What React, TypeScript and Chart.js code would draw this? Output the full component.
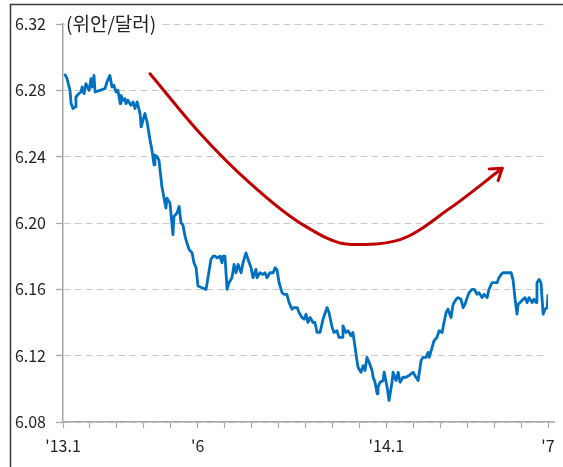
import React, { useEffect, useRef } from "react";
import { Chart, registerables } from "chart.js";

Chart.register(...registerables);

// y axis (위안/달러)
const unitLabel = "(위안/달러)";
const yMin = 6.08;
const yMax = 6.32;
const yStep = 0.04;

// x axis: months since 2013.1
const xTickMonths = [0, 5, 12, 18];
const xTickLabels = ["'13.1", "'6", "'14.1", "'7"];

// CNY per USD, [month since Jan 2013, rate]
const cnyRate: [number, number][] = [
  [0.06, 6.29], [0.15, 6.287], [0.26, 6.28], [0.3, 6.272], [0.37, 6.269], [0.45, 6.27], [0.48, 6.276],
  [0.59, 6.278], [0.67, 6.279], [0.71, 6.282], [0.78, 6.278], [0.85, 6.284], [0.97, 6.28], [1.04, 6.287],
  [1.08, 6.282], [1.15, 6.289], [1.19, 6.279], [1.37, 6.28], [1.56, 6.281], [1.63, 6.285], [1.74, 6.289],
  [1.82, 6.282], [1.89, 6.283], [1.97, 6.279], [2.04, 6.28], [2.12, 6.272], [2.15, 6.277], [2.23, 6.274],
  [2.3, 6.275], [2.34, 6.272], [2.41, 6.274], [2.52, 6.271], [2.6, 6.273], [2.67, 6.269], [2.75, 6.273],
  [2.86, 6.266], [2.9, 6.258], [2.97, 6.262], [3.04, 6.266], [3.12, 6.261], [3.23, 6.25], [3.3, 6.244],
  [3.38, 6.235], [3.41, 6.241], [3.49, 6.24], [3.56, 6.238], [3.67, 6.222], [3.75, 6.215], [3.82, 6.209],
  [3.86, 6.215], [3.97, 6.212], [4.08, 6.193], [4.12, 6.204], [4.23, 6.206], [4.31, 6.21], [4.38, 6.2],
  [4.45, 6.199], [4.53, 6.192], [4.6, 6.188], [4.68, 6.184], [4.79, 6.182], [4.86, 6.176], [4.94, 6.173],
  [5.01, 6.162], [5.16, 6.161], [5.31, 6.16], [5.38, 6.167], [5.49, 6.178], [5.57, 6.18], [5.64, 6.18],
  [5.72, 6.179], [5.83, 6.18], [5.9, 6.176], [5.94, 6.18], [6.01, 6.18], [6.09, 6.16], [6.16, 6.164],
  [6.27, 6.167], [6.35, 6.175], [6.42, 6.17], [6.5, 6.175], [6.61, 6.17], [6.68, 6.176], [6.79, 6.182],
  [6.87, 6.178], [6.98, 6.173], [7.05, 6.167], [7.16, 6.172], [7.2, 6.167], [7.31, 6.17], [7.42, 6.169],
  [7.5, 6.17], [7.57, 6.167], [7.68, 6.17], [7.8, 6.17], [7.87, 6.173], [7.94, 6.172], [8.02, 6.164],
  [8.13, 6.158], [8.2, 6.157], [8.31, 6.157], [8.39, 6.152], [8.5, 6.148], [8.57, 6.149], [8.69, 6.149],
  [8.76, 6.146], [8.87, 6.143], [8.95, 6.142], [9.02, 6.145], [9.09, 6.14], [9.17, 6.143], [9.28, 6.14],
  [9.35, 6.14], [9.43, 6.134], [9.54, 6.134], [9.65, 6.142], [9.8, 6.149], [9.87, 6.146], [9.99, 6.137],
  [10.06, 6.134], [10.17, 6.135], [10.24, 6.131], [10.36, 6.131], [10.39, 6.138], [10.5, 6.134],
  [10.58, 6.135], [10.69, 6.132], [10.76, 6.134], [10.84, 6.125], [10.91, 6.117], [10.95, 6.113],
  [11.06, 6.11], [11.14, 6.114], [11.21, 6.111], [11.28, 6.119], [11.36, 6.116], [11.47, 6.111],
  [11.51, 6.107], [11.58, 6.104], [11.66, 6.097], [11.69, 6.101], [11.77, 6.104], [11.88, 6.105],
  [11.92, 6.11], [12.03, 6.101], [12.1, 6.093], [12.21, 6.104], [12.25, 6.11], [12.36, 6.105],
  [12.44, 6.11], [12.51, 6.104], [12.62, 6.107], [12.73, 6.107], [12.84, 6.108], [12.99, 6.11],
  [13.1, 6.107], [13.18, 6.105], [13.29, 6.117], [13.36, 6.119], [13.47, 6.119], [13.55, 6.122],
  [13.59, 6.119], [13.7, 6.125], [13.77, 6.129], [13.88, 6.131], [13.96, 6.135], [14.07, 6.134],
  [14.14, 6.14], [14.22, 6.146], [14.29, 6.148], [14.4, 6.143], [14.48, 6.151], [14.59, 6.154],
  [14.66, 6.155], [14.77, 6.154], [14.85, 6.149], [14.92, 6.151], [15.0, 6.155], [15.07, 6.158],
  [15.18, 6.16], [15.26, 6.16], [15.37, 6.157], [15.44, 6.158], [15.55, 6.155], [15.63, 6.157],
  [15.74, 6.155], [15.81, 6.16], [15.92, 6.164], [16.0, 6.164], [16.11, 6.164], [16.18, 6.167],
  [16.26, 6.169], [16.33, 6.17], [16.44, 6.17], [16.52, 6.17], [16.63, 6.17], [16.7, 6.166],
  [16.78, 6.154], [16.85, 6.145], [16.89, 6.151], [16.96, 6.152], [17.08, 6.154], [17.15, 6.155],
  [17.22, 6.152], [17.3, 6.155], [17.41, 6.152], [17.48, 6.154], [17.56, 6.152], [17.59, 6.164],
  [17.67, 6.166], [17.74, 6.164], [17.82, 6.145], [17.89, 6.148], [17.97, 6.149], [18.0, 6.157],
];

// Trend arrow (red), [month, rate]
const trendArrow: [number, number][] = [
  [3.23, 6.29], [5.09, 6.254], [6.94, 6.224], [8.8, 6.2], [10.7, 6.187],
  [12.51, 6.19], [14.37, 6.209], [16.3, 6.233],
];

const FONT = "'Noto Sans CJK KR', 'Noto Sans', sans-serif";
const BLUE = "#0070C0";
const RED = "#C00000";

export default function App() {
  const ref = useRef<HTMLCanvasElement | null>(null);

  useEffect(() => {
    document.body.style.margin = "0";
    const canvas = ref.current;
    if (!canvas) return;

    const framePlugin = {
      id: "frame",
      beforeDraw(chart: any) {
        const ctx = chart.ctx;
        ctx.save();
        ctx.fillStyle = "#ffffff";
        ctx.fillRect(0, 0, chart.width, chart.height);
        ctx.strokeStyle = "#3a3a3a";
        ctx.lineWidth = 1.5;
        ctx.beginPath();
        ctx.moveTo(10.5, chart.height);
        ctx.lineTo(10.5, 4.5);
        ctx.lineTo(chart.width, 4.5);
        ctx.stroke();
        ctx.restore();
      },
      afterDraw(chart: any) {
        const ctx = chart.ctx;
        const ys = chart.scales.y;
        const xs = chart.scales.x;
        ctx.save();
        ctx.strokeStyle = "#a6a6a6";
        ctx.lineWidth = 1.5;
        ctx.beginPath();
        ctx.moveTo(chart.chartArea.right, ys.getPixelForValue(yMin));
        ctx.lineTo(chart.chartArea.right + 7, ys.getPixelForValue(yMin));
        ctx.stroke();

        // unit label
        ctx.font = `19px ${FONT}`;
        const ty = ys.getPixelForValue(yMax);
        const tx = xs.left + 3;
        const w = ctx.measureText(unitLabel).width;
        ctx.fillStyle = "#ffffff";
        ctx.fillRect(tx - 1, ty - 12, w + 4, 24);
        ctx.fillStyle = "#222222";
        ctx.textBaseline = "middle";
        ctx.textAlign = "left";
        ctx.fillText(unitLabel, tx, ty);

        // arrow head
        const meta = chart.getDatasetMeta(1);
        const pts = meta.data;
        const last = pts[pts.length - 1];
        const prev = pts[pts.length - 2];
        let dx = last.x - (last.cp1x ?? prev.x);
        let dy = last.y - (last.cp1y ?? prev.y);
        if (Math.hypot(dx, dy) < 1) {
          dx = last.x - prev.x;
          dy = last.y - prev.y;
        }
        const ang = Math.atan2(dy, dx);
        const L = 13;
        const spread = 0.6;
        ctx.strokeStyle = RED;
        ctx.lineWidth = 3;
        ctx.lineCap = "round";
        ctx.lineJoin = "round";
        ctx.beginPath();
        ctx.moveTo(last.x - L * Math.cos(ang - spread), last.y - L * Math.sin(ang - spread));
        ctx.lineTo(last.x, last.y);
        ctx.lineTo(last.x - L * Math.cos(ang + spread), last.y - L * Math.sin(ang + spread));
        ctx.stroke();
        ctx.restore();
      },
    };

    const chart = new Chart(canvas, {
      type: "line",
      data: {
        datasets: [
          {
            label: "USD/CNY",
            data: cnyRate.map(([x, y]) => ({ x, y })),
            borderColor: BLUE,
            borderWidth: 2.8,
            pointRadius: 0,
            tension: 0,
            borderJoinStyle: "round",
            fill: false,
          },
          {
            label: "trend",
            data: trendArrow.map(([x, y]) => ({ x, y })),
            borderColor: RED,
            borderWidth: 3,
            pointRadius: 0,
            cubicInterpolationMode: "monotone",
            borderCapStyle: "round",
            fill: false,
          },
        ],
      },
      options: {
        responsive: false,
        animation: false,
        devicePixelRatio: 1,
        layout: { padding: { left: 0, top: 24, right: 15, bottom: 0 } },
        plugins: {
          legend: { display: false },
          tooltip: { enabled: false },
          title: { display: false },
        },
        scales: {
          x: {
            type: "linear",
            min: 0,
            max: 18,
            afterFit: (s: any) => {
              s.height = 45;
            },
            ticks: {
              stepSize: 1,
              autoSkip: false,
              maxRotation: 0,
              padding: 8,
              color: "#222222",
              font: { family: FONT, size: 16 },
              callback: (v: any) => {
                const i = xTickMonths.indexOf(Number(v));
                return i >= 0 ? xTickLabels[i] : "";
              },
            },
            grid: {
              drawOnChartArea: false,
              drawTicks: true,
              tickLength: 6,
              tickColor: "#a6a6a6",
              tickWidth: 1.2,
            },
            border: { display: true, color: "#a6a6a6", width: 1.5 },
          },
          y: {
            type: "linear",
            min: yMin,
            max: yMax,
            afterFit: (s: any) => {
              s.width = 63;
            },
            ticks: {
              stepSize: yStep,
              padding: 10,
              color: "#222222",
              font: { family: FONT, size: 16 },
              callback: (v: any) => Number(v).toFixed(2),
            },
            grid: {
              color: "#c8c8c8",
              lineWidth: 1,
              drawTicks: true,
              tickLength: 7,
              tickColor: "#a6a6a6",
              tickWidth: 1.2,
            },
            border: { display: true, color: "#a6a6a6", width: 1.5, dash: [7, 4] },
          },
        },
      },
      plugins: [framePlugin],
    } as any);

    return () => chart.destroy();
  }, []);

  return <canvas ref={ref} width={563} height={467} style={{ display: "block" }} />;
}
